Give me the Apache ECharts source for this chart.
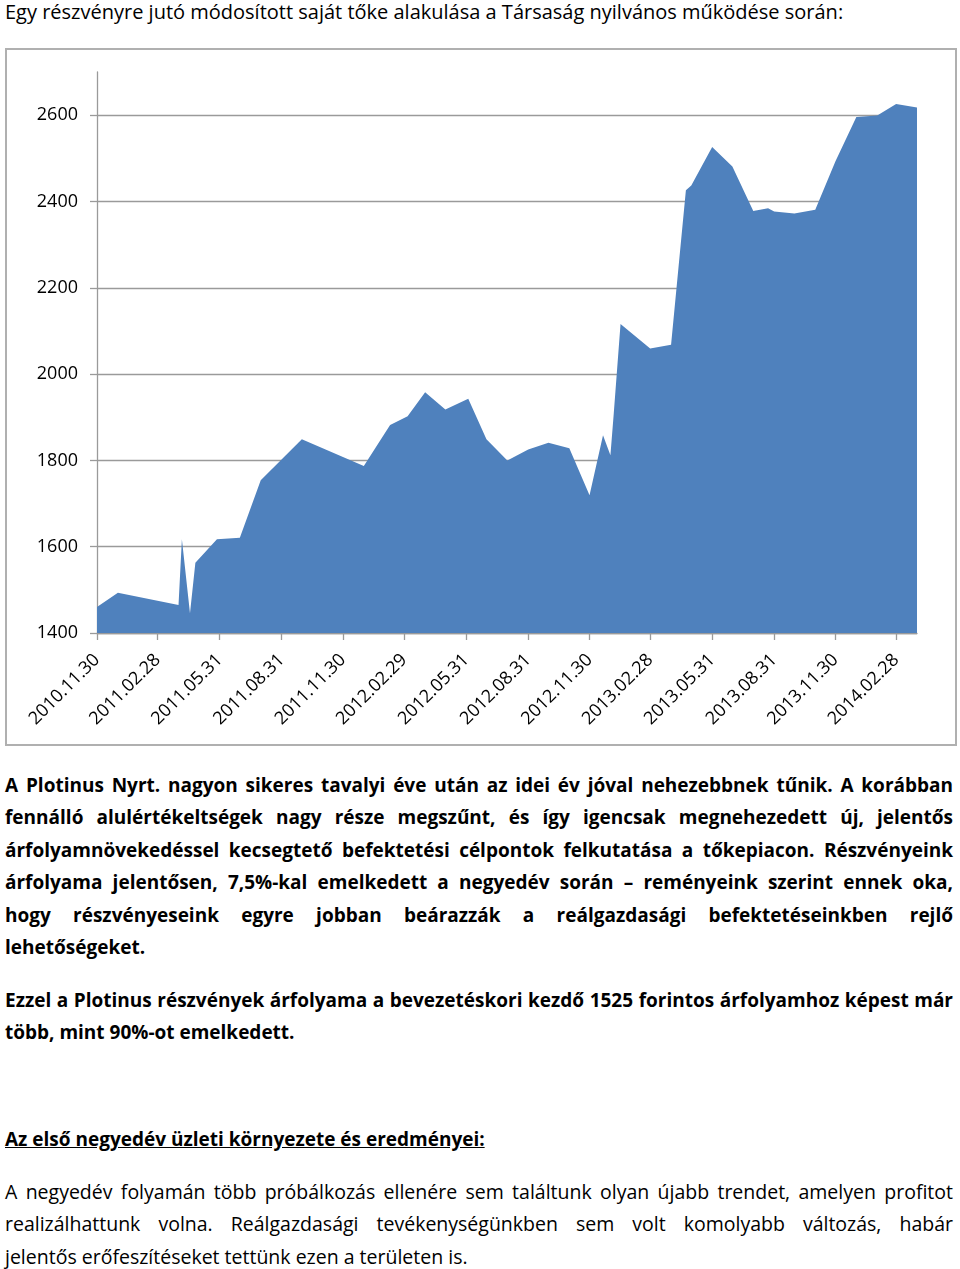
<!DOCTYPE html>
<html><head><meta charset="utf-8">
<script src="https://cdn.jsdelivr.net/npm/echarts@6/dist/echarts.min.js"></script>
<style>
html,body{margin:0;padding:0;background:#fff;width:960px;height:1269px;overflow:hidden;}
body{font-family:"Open Sans",Lato,sans-serif;color:#000;position:relative;}
#title{position:absolute;left:5px;top:0px;font-size:20px;line-height:24px;white-space:nowrap;}
#box{position:absolute;left:5px;top:48px;width:948px;height:694px;border:2px solid #b0b0b0;}
#chart{width:948px;height:694px;}
.p{position:absolute;left:5px;width:948px;font-size:19.5px;}
.b{font-weight:bold;font-size:19px;}
.l{height:32.4px;line-height:32.4px;text-align:justify;text-align-last:justify;}
.last{text-align:left;text-align-last:left;}
.h{position:absolute;left:5px;font-size:19px;font-weight:bold;text-decoration:underline;line-height:32px;white-space:nowrap;}
</style>
</head><body>
<div id="title">Egy részvényre jutó módosított saját tőke alakulása a Társaság nyilvános működése során:</div>
<div id="box"><div id="chart"></div></div>

<div class="p b" style="top:769px">
<div class="l">A Plotinus Nyrt. nagyon sikeres tavalyi éve után az idei év jóval nehezebbnek tűnik. A korábban</div>
<div class="l">fennálló alulértékeltségek nagy része megszűnt, és így igencsak megnehezedett új, jelentős</div>
<div class="l">árfolyamnövekedéssel kecsegtető befektetési célpontok felkutatása a tőkepiacon. Részvényeink</div>
<div class="l">árfolyama jelentősen, 7,5%-kal emelkedett a negyedév során – reményeink szerint ennek oka,</div>
<div class="l">hogy részvényeseink egyre jobban beárazzák a reálgazdasági befektetéseinkben rejlő</div>
<div class="l last">lehetőségeket.</div>
</div>

<div class="p b" style="top:984px">
<div class="l">Ezzel a Plotinus részvények árfolyama a bevezetéskori kezdő 1525 forintos árfolyamhoz képest már</div>
<div class="l last">több, mint 90%-ot emelkedett.</div>
</div>

<div class="h" style="top:1123px">Az első negyedév üzleti környezete és eredményei:</div>

<div class="p" style="top:1176px">
<div class="l">A negyedév folyamán több próbálkozás ellenére sem találtunk olyan újabb trendet, amelyen profitot</div>
<div class="l">realizálhattunk volna. Reálgazdasági tevékenységünkben sem volt komolyabb változás, habár</div>
<div class="l last">jelentős erőfeszítéseket tettünk ezen a területen is.</div>
</div>

<script>
// ---- data ----
var dates = [
  '2010-11-30','2010-12-31','2011-03-31','2011-04-05','2011-04-17','2011-04-25',
  '2011-05-27','2011-06-30','2011-07-31','2011-09-30','2011-12-31','2012-02-08',
  '2012-03-05','2012-03-31','2012-04-30','2012-06-03','2012-06-30','2012-07-31',
  '2012-08-31','2012-09-30','2012-10-31','2012-11-30','2012-12-20','2012-12-31',
  '2013-01-05','2013-01-15','2013-02-28','2013-03-31','2013-04-22','2013-04-30',
  '2013-05-31','2013-06-30','2013-07-31','2013-08-22','2013-08-31','2013-09-30',
  '2013-10-31','2013-11-30','2013-12-31','2014-01-31','2014-02-28','2014-03-31'
];
var values = [
  1460, 1493, 1465, 1617, 1446, 1563,
  1617, 1621, 1754, 1849, 1787, 1882,
  1902, 1958, 1918, 1943, 1849, 1800,
  1825, 1841, 1828, 1719, 1858, 1812,
  1910, 2116, 2059, 2068, 2426, 2437,
  2526, 2481, 2378, 2384, 2377, 2372,
  2381, 2493, 2596, 2599, 2626, 2618
];
var xTickDates = [
  '2010-11-30','2011-02-28','2011-05-31','2011-08-31','2011-11-30','2012-02-29',
  '2012-05-31','2012-08-31','2012-11-30','2013-02-28','2013-05-31','2013-08-31',
  '2013-11-30','2014-02-28'
];
var yTicks = [1400, 1600, 1800, 2000, 2200, 2400, 2600];
var xStart = '2010-11-30', xEnd = '2014-03-31';
var yMin = 1400, yMax = 2700, yStep = 200;

function toTs(s){ var p = s.split('-'); return Date.UTC(+p[0], +p[1]-1, +p[2]); }
function pad(n){ return (n < 10 ? '0' : '') + n; }
function fmt(v){ var d = new Date(v); return d.getUTCFullYear() + '.' + pad(d.getUTCMonth()+1) + '.' + pad(d.getUTCDate()); }

var seriesData = dates.map(function(d, i){ return [toTs(d), values[i]]; });
var xTicks = xTickDates.map(toTs);

var chart = echarts.init(document.getElementById('chart'), null, {renderer:'canvas'});
var axisGray = '#9a9a9a';
chart.setOption({
  animation: false,
  grid: { left: 90, top: 22, right: 38, bottom: 111, containLabel: false, outerBoundsMode: 'none' },
  xAxis: {
    type: 'value',
    min: toTs(xStart), max: toTs(xEnd),
    axisLine: { show: true, lineStyle: { color: axisGray, width: 1.3 } },
    axisTick: { show: true, length: 7, customValues: xTicks, lineStyle: { color: axisGray, width: 1.3 } },
    axisLabel: {
      customValues: xTicks, rotate: 45, margin: 24, formatter: fmt,
      color: '#000', fontSize: 18, fontFamily: 'Open Sans', hideOverlap: false
    },
    splitLine: { show: false }
  },
  yAxis: {
    type: 'value', min: yMin, max: yMax, interval: yStep,
    axisLine: { show: true, lineStyle: { color: axisGray, width: 1.3 } },
    axisTick: { show: true, length: 7, customValues: yTicks, lineStyle: { color: axisGray, width: 1.3 } },
    axisLabel: { customValues: yTicks, margin: 19, color: '#000', fontSize: 18, fontFamily: 'Open Sans',
      formatter: function(v){ return String(v); } },
    splitLine: { show: true, lineStyle: { color: axisGray, width: 1.3 } }
  },
  series: [{
    type: 'line',
    data: seriesData,
    symbol: 'none',
    lineStyle: { width: 0, opacity: 0 },
    areaStyle: { color: '#4F81BD', opacity: 1, origin: 'start' },
    z: 3
  }]
});
</script>
</body></html>
